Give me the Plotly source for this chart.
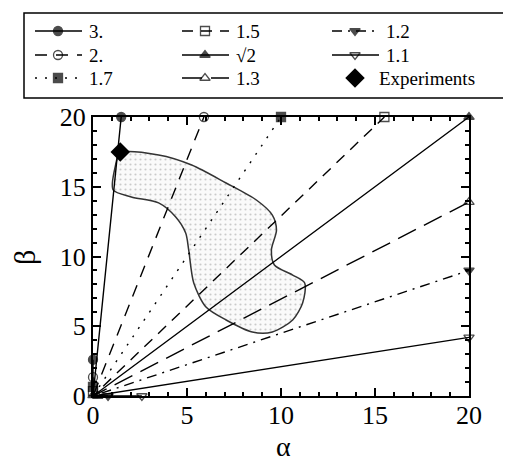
import plotly.graph_objects as go

# series (ratio labels), end points on the frame, and the extra marker near the origin
names = ["3.", "2.", "1.7", "1.5", "\u221a2", "1.3", "1.2", "1.1"]
end_alpha = [1.5, 5.9, 10.0, 15.5, 20.0, 20.0, 20.0, 20.0]
end_beta = [20.0, 20.0, 20.0, 20.0, 20.0, 13.9, 9.0, 4.2]
start_alpha = [0.0, 0.0, 0.0, 0.0, 0.0, 0.25, 0.8, 2.6]
start_beta = [2.6, 1.35, 0.65, 0.35, 0.05, 0.0, 0.0, 0.0]

# experimental region outline
region_alpha = [1.45, 3.49, 5.25, 7.08, 8.69, 9.54, 9.76, 9.49, 9.65, 10.62, 11.26, 11.15,
                10.62, 9.54, 8.47, 7.08, 6.01, 5.36, 5.09, 4.93, 4.40, 3.49, 2.04, 1.07, 1.18, 1.45]
region_beta = [17.42, 17.28, 16.56, 15.27, 14.05, 12.97, 11.90, 10.47, 9.39, 8.67, 8.10, 6.67,
               5.45, 4.59, 4.59, 5.45, 6.38, 8.10, 10.47, 11.68, 12.83, 13.84, 14.27, 14.77, 16.42, 17.42]

exp_alpha = [1.45]
exp_beta = [17.5]
exp_label = "Experiments"

# styles
dashes = ["solid", "12px,9px", "2px,8px", "11px,8px", "solid", "20px,9px", "10px,6px,2px,6px", "solid"]
symbols = ["circle", "circle-open", "square", "square-open", "triangle-up",
           "triangle-up-open", "triangle-down", "triangle-down-open"]

# legend layout (page pixels): 3 columns x 3 rows, filled column by column
leg_cols = [35, 182, 332]
leg_rows = [31, 55, 78]
leg_box = dict(x0=24, x1=506, y0=13, y1=98)

OFF = 8  # html body margin shifts the figure by 8px
W, H = 511, 461
serif = "Liberation Serif"
fig = go.Figure()

fig.add_trace(go.Scatter(
    x=region_alpha, y=region_beta, mode="lines", fill="toself",
    line=dict(color="#333", width=1.5, shape="spline", smoothing=0.8),
    fillcolor="rgba(0,0,0,0.02)",
    fillpattern=dict(shape=".", fgcolor="#999", size=5, solidity=0.15),
    showlegend=False, hoverinfo="skip"))

for i, n in enumerate(names):
    fig.add_trace(go.Scatter(
        x=[start_alpha[i], 0, end_alpha[i]],
        y=[start_beta[i], 0, end_beta[i]],
        mode="lines+markers", name=n, showlegend=False,
        line=dict(color="black", width=1.4, dash=dashes[i]),
        marker=dict(symbol=symbols[i], size=[9, 0, 9], color="black",
                    line=dict(color="black", width=1.3)),
        cliponaxis=False))

fig.add_trace(go.Scatter(
    x=exp_alpha, y=exp_beta, mode="markers", name=exp_label, showlegend=False,
    marker=dict(symbol="diamond", size=15, color="black"), cliponaxis=False))

# hand-drawn legend on an overlay axis measured in page pixels
for i, n in enumerate(names):
    cx = leg_cols[i // 3]
    cy = leg_rows[i % 3]
    fig.add_trace(go.Scatter(
        x=[cx, cx + 23, cx + 47], y=[cy, cy, cy], xaxis="x2", yaxis="y2",
        mode="lines+markers", showlegend=False, hoverinfo="skip",
        line=dict(color="black", width=1.4, dash=dashes[i]),
        marker=dict(symbol=symbols[i], size=[0, 9, 0], color="black",
                    line=dict(color="black", width=1.3))))
    fig.add_annotation(x=cx + 52, y=cy, xref="x2", yref="y2", text=n, showarrow=False,
                       xanchor="left", yanchor="middle", font=dict(family=serif, size=19))
fig.add_trace(go.Scatter(
    x=[leg_cols[2] + 23], y=[leg_rows[2]], xaxis="x2", yaxis="y2", mode="markers",
    showlegend=False, hoverinfo="skip", marker=dict(symbol="diamond", size=15, color="black")))
fig.add_annotation(x=leg_cols[2] + 45, y=leg_rows[2], xref="x2", yref="y2", text=exp_label,
                   showarrow=False, xanchor="left", yanchor="middle", font=dict(family=serif, size=19))
fig.add_shape(type="rect", xref="x2", yref="y2", line=dict(color="black", width=1.5), **leg_box)

# axis titles
fig.add_annotation(x=283, y=446, xref="x2", yref="y2", text="\u03b1", showarrow=False,
                   font=dict(family=serif, size=28))
fig.add_annotation(x=24, y=258, xref="x2", yref="y2", text="\u03b2", showarrow=False,
                   textangle=-90, font=dict(family=serif, size=30))

axis_common = dict(
    range=[0, 20], tickvals=[0, 5, 10, 15, 20], ticks="inside", ticklen=8, tickwidth=1.5,
    tickcolor="black", showline=True, linecolor="black", linewidth=2, mirror="allticks",
    showgrid=False, zeroline=False, tickfont=dict(family=serif, size=26, color="black"),
    minor=dict(dtick=1, ticks="inside", ticklen=4, tickcolor="black", showgrid=False))

fig.update_layout(
    width=W, height=H,
    margin=dict(l=0, r=0, t=0, b=0, autoexpand=False),
    paper_bgcolor="white", plot_bgcolor="rgba(0,0,0,0)",
    font=dict(family=serif, color="black"),
    showlegend=False,
    xaxis=dict(**axis_common, domain=[(93 - OFF) / W, (469 - OFF) / W], ticklabelstandoff=-5),
    yaxis=dict(**axis_common, domain=[1 - (396 - OFF) / H, 1 - (117 - OFF) / H]),
    xaxis2=dict(domain=[0, 1], range=[OFF, W + OFF], visible=False, anchor="y2"),
    yaxis2=dict(domain=[0, 1], range=[H + OFF, OFF], visible=False, anchor="x2"),
)

fig.write_html("out.html")
